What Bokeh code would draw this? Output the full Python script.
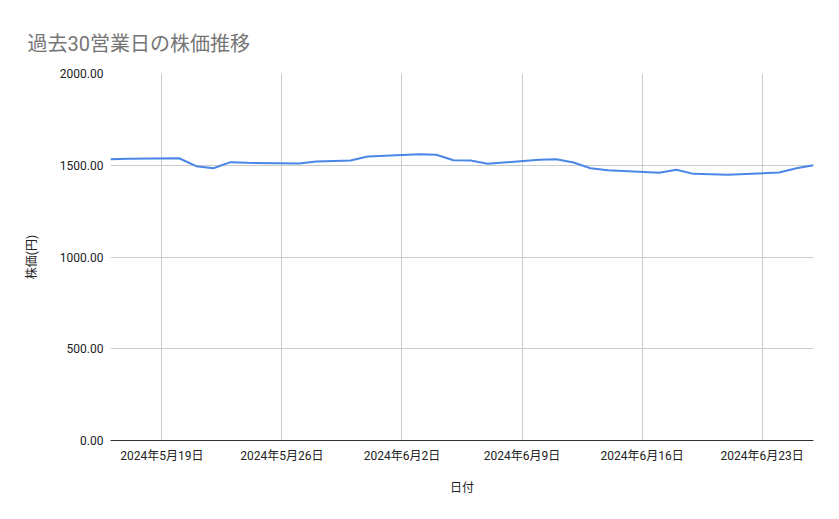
from datetime import datetime
from bokeh.plotting import figure
from bokeh.models import Range1d, FixedTicker, NumeralTickFormatter, Title
from bokeh.embed import file_html
from bokeh.resources import INLINE

# ---- data ----
dates = [
    "2024-05-16", "2024-05-17", "2024-05-20", "2024-05-21", "2024-05-22",
    "2024-05-23", "2024-05-24", "2024-05-27", "2024-05-28", "2024-05-29",
    "2024-05-30", "2024-05-31", "2024-06-03", "2024-06-04", "2024-06-05",
    "2024-06-06", "2024-06-07", "2024-06-10", "2024-06-11", "2024-06-12",
    "2024-06-13", "2024-06-14", "2024-06-17", "2024-06-18", "2024-06-19",
    "2024-06-20", "2024-06-21", "2024-06-24", "2024-06-25", "2024-06-26",
]
prices = [
    1533, 1535, 1538, 1495, 1484,
    1517, 1513, 1510, 1520, 1523,
    1526, 1548, 1560, 1557, 1527,
    1526, 1508, 1530, 1533, 1515,
    1484, 1473, 1459, 1475, 1453,
    1451, 1448, 1460, 1484, 1500,
]
tick_dates = ["2024-05-19", "2024-05-26", "2024-06-02", "2024-06-09", "2024-06-16", "2024-06-23"]
tick_labels = ["2024年5月19日", "2024年5月26日", "2024年6月2日", "2024年6月9日", "2024年6月16日", "2024年6月23日"]
y_ticks = [0, 500, 1000, 1500, 2000]

title_text = "過去30営業日の株価推移"
x_title = "日付"
y_title = "株価(円)"

FONT = "Roboto, Noto Sans CJK JP"

def to_dt(s):
    return datetime.strptime(s, "%Y-%m-%d")

def to_ms(s):
    return (to_dt(s) - datetime(1970, 1, 1)).total_seconds() * 1000.0

xs = [to_dt(d) for d in dates]

p = figure(
    width=831, height=511,
    x_axis_type="datetime",
    output_backend="svg", toolbar_location=None,
    min_border_left=110, min_border_right=18,
    min_border_top=73, min_border_bottom=71,
    title=None,
)
p.x_range = Range1d(to_ms(dates[0]), to_ms(dates[-1]))
p.y_range = Range1d(0, 2000)

p.line(xs, prices, line_color="#4a86e8", line_width=2)

# title
t = Title(text=title_text, text_font=FONT, text_font_size="20px",
          text_color="#757575", text_font_style="normal", align="left",
          offset=-83)
try:
    t.standoff = 36
except Exception:
    pass
p.add_layout(t, "above")

# x axis
xa = p.xaxis[0]
tick_ms = [to_ms(d) for d in tick_dates]
xa.ticker = FixedTicker(ticks=tick_ms)
xa.major_label_overrides = {m: l for m, l in zip(tick_ms, tick_labels)}
xa.major_label_text_font = FONT
xa.major_label_text_font_size = "12px"
xa.major_label_text_color = "#222222"
xa.major_tick_line_color = None
xa.minor_tick_line_color = None
xa.major_tick_out = 0
xa.major_label_standoff = 8
xa.axis_line_color = "#333333"
xa.axis_line_width = 1
xa.axis_label = x_title
xa.axis_label_text_font = FONT
xa.axis_label_text_font_size = "12px"
xa.axis_label_text_font_style = "normal"
xa.axis_label_text_color = "#222222"
xa.axis_label_standoff = 15

# y axis
ya = p.yaxis[0]
ya.ticker = FixedTicker(ticks=y_ticks)
ya.formatter = NumeralTickFormatter(format="0.00")
ya.major_label_text_font = FONT
ya.major_label_text_font_size = "12px"
ya.major_label_text_color = "#222222"
ya.major_tick_line_color = None
ya.minor_tick_line_color = None
ya.major_tick_out = 0
ya.major_label_standoff = 7
ya.axis_line_color = None
ya.axis_label = y_title
ya.axis_label_text_font = FONT
ya.axis_label_text_font_size = "12px"
ya.axis_label_text_font_style = "normal"
ya.axis_label_text_color = "#222222"
ya.axis_label_standoff = 18

p.xgrid.ticker = FixedTicker(ticks=tick_ms)
p.ygrid.ticker = FixedTicker(ticks=y_ticks)
p.xgrid.grid_line_color = "#cccccc"
p.ygrid.grid_line_color = "#cccccc"
p.outline_line_color = None
p.background_fill_color = "white"
p.border_fill_color = "white"

open("out.html", "w").write(file_html(p, INLINE))
